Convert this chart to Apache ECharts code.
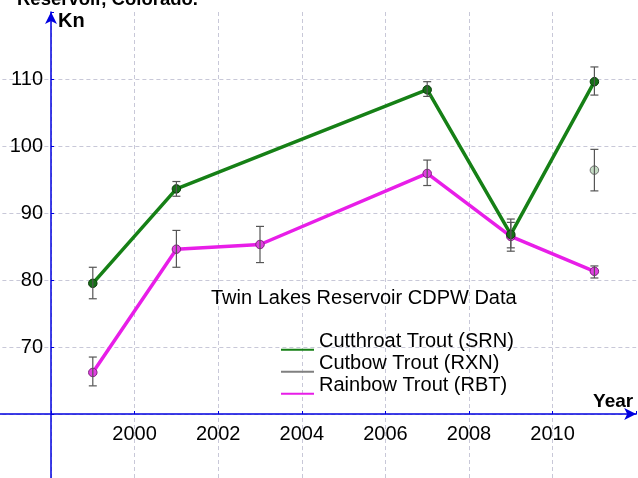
<!DOCTYPE html>
<html>
<head>
<meta charset="utf-8">
<script src="https://cdn.jsdelivr.net/npm/echarts@6/dist/echarts.min.js"></script>
<style>
html,body{margin:0;padding:0;background:#fff;}
#chart{width:638px;height:478px;}
</style>
</head>
<body>
<div id="chart"></div>
<script>
// ---- data ----
const cutthroatYears = [1999, 2001, 2007, 2009, 2011];
const cutthroatKn    = [79.5, 93.6, 108.4, 86.8, 109.6];
const cutthroatLow   = [77.2, 92.5, 107.4, 84.3, 107.6];
const cutthroatHigh  = [81.9, 94.7, 109.6, 89.1, 111.8];

const cutbowYears = [2011];
const cutbowKn    = [96.4];
const cutbowLow   = [93.3];
const cutbowHigh  = [99.5];

const rainbowYears = [1999, 2001, 2003, 2007, 2009, 2011];
const rainbowKn    = [66.2, 84.6, 85.3, 95.9, 86.5, 81.3];
const rainbowLow   = [64.2, 81.9, 82.6, 94.1, 84.8, 80.3];
const rainbowHigh  = [68.5, 87.4, 88.0, 97.9, 88.6, 82.1];

const seriesNames = ['Cutthroat Trout (SRN)', 'Cutbow Trout (RXN)', 'Rainbow Trout (RBT)'];
const xTickLabels = [2000, 2002, 2004, 2006, 2008, 2010];
const yTickLabels = [70, 80, 90, 100, 110];

const chartTitle = 'Reservoir, Colorado.';
const chartSubtitle = 'Twin Lakes Reservoir CDPW Data';

// ---- build ----
const pairs = (xs, ys) => xs.map((x, i) => [x, ys[i]]);
const triples = (xs, lo, hi) => xs.map((x, i) => [x, lo[i], hi[i]]);

function errorBar(params, api) {
  const x = api.value(0);
  const lo = api.coord([x, api.value(1)]);
  const hi = api.coord([x, api.value(2)]);
  const w = 4;
  const style = { stroke: '#555', lineWidth: 1.2, fill: null };
  return {
    type: 'group',
    children: [
      { type: 'line', shape: { x1: lo[0], y1: lo[1], x2: hi[0], y2: hi[1] }, style },
      { type: 'line', shape: { x1: lo[0] - w, y1: lo[1], x2: lo[0] + w, y2: lo[1] }, style },
      { type: 'line', shape: { x1: hi[0] - w, y1: hi[1], x2: hi[0] + w, y2: hi[1] }, style }
    ]
  };
}

const FONT = "'Liberation Sans', Arial, sans-serif";
const legendIcon = 'path://M0,0h0.01v0.01h-0.01z M0,18h34v2.2h-34z';

const chart = echarts.init(document.getElementById('chart'), null, { renderer: 'canvas' });
chart.setOption({
  backgroundColor: '#ffffff',
  animation: false,
  title: [
    { text: chartTitle, left: 12, top: -15,
      textStyle: { fontFamily: FONT, fontWeight: 'bold', fontSize: 18.5, color: '#000' } },
    { text: chartSubtitle, left: 206, top: 283,
      textStyle: { fontFamily: FONT, fontWeight: 'normal', fontSize: 20, color: '#000' } }
  ],
  legend: {
    orient: 'vertical',
    left: 276, top: 326,
    itemWidth: 33, itemHeight: 20, itemGap: 2,
    textStyle: { fontFamily: FONT, fontSize: 20, color: '#000' },
    data: [
      { name: seriesNames[0], icon: legendIcon, itemStyle: { color: '#168016', borderWidth: 0 } },
      { name: seriesNames[1], icon: legendIcon, itemStyle: { color: '#808080', borderWidth: 0 } },
      { name: seriesNames[2], icon: legendIcon, itemStyle: { color: '#e81ee8', borderWidth: 0 } }
    ]
  },
  grid: { left: -32.6, right: 1.8, top: 12, bottom: -3, containLabel: false, outerBoundsMode: 'none' },
  xAxis: {
    type: 'value', min: 1996, max: 2012, interval: 2,
    position: 'bottom', offset: -67,
    name: 'Year', nameLocation: 'end', nameGap: -3,
    nameTextStyle: { fontFamily: FONT, fontWeight: 'bold', fontSize: 19, color: '#000',
      align: 'right', verticalAlign: 'bottom', padding: [0, 0, 3, 0] },
    axisLine: { show: true, lineStyle: { color: '#0000e0', width: 1.5 }, symbol: ['none', 'arrow'], symbolSize: [9, 12] },
    axisTick: { show: true, inside: true, length: 3, lineStyle: { color: '#0000e0' } },
    axisLabel: { fontFamily: FONT, fontSize: 20, color: '#000', margin: 10,
      formatter: v => xTickLabels.includes(v) ? String(v) : '' },
    splitLine: { show: true, showMinLine: false, showMaxLine: false,
      lineStyle: { color: '#c8c8d8', type: [4, 3], width: 1 } }
  },
  yAxis: {
    type: 'value', min: 50, max: 120, interval: 10,
    position: 'left', offset: -83.6,
    name: 'Kn', nameLocation: 'end', nameGap: -19,
    nameTextStyle: { fontFamily: FONT, fontWeight: 'bold', fontSize: 20, color: '#000',
      align: 'left', padding: [0, 0, 0, 7] },
    axisLine: { show: true, lineStyle: { color: '#0000e0', width: 1.5 }, symbol: ['none', 'arrow'], symbolSize: [9, 12] },
    axisTick: { show: true, inside: true, length: 3, lineStyle: { color: '#0000e0' } },
    axisLabel: { fontFamily: FONT, fontSize: 20, color: '#000', margin: 8,
      formatter: v => yTickLabels.includes(v) ? String(v) : '' },
    splitLine: { show: true, showMinLine: false, showMaxLine: false,
      lineStyle: { color: '#c8c8d8', type: [4, 3], width: 1 } }
  },
  series: [
    { name: seriesNames[0], type: 'line', data: pairs(cutthroatYears, cutthroatKn), z: 3,
      lineStyle: { color: '#168016', width: 3.5 },
      symbol: 'circle', symbolSize: 8.5,
      itemStyle: { color: '#167016', borderColor: '#0a3a0a', borderWidth: 1 } },
    { name: seriesNames[1], type: 'line', data: pairs(cutbowYears, cutbowKn), z: 3,
      lineStyle: { color: '#808080', width: 3.5 },
      symbol: 'circle', symbolSize: 8.5,
      itemStyle: { color: '#c4dcc4', borderColor: '#707070', borderWidth: 1 } },
    { name: seriesNames[2], type: 'line', data: pairs(rainbowYears, rainbowKn), z: 2,
      lineStyle: { color: '#e81ee8', width: 3.5 },
      symbol: 'circle', symbolSize: 8.5,
      itemStyle: { color: '#e040e0', borderColor: '#802080', borderWidth: 1 } },
    { type: 'custom', renderItem: errorBar, data: triples(cutthroatYears, cutthroatLow, cutthroatHigh), z: 4, silent: true },
    { type: 'custom', renderItem: errorBar, data: triples(cutbowYears, cutbowLow, cutbowHigh), z: 4, silent: true },
    { type: 'custom', renderItem: errorBar, data: triples(rainbowYears, rainbowLow, rainbowHigh), z: 4, silent: true }
  ]
});
</script>
</body>
</html>
